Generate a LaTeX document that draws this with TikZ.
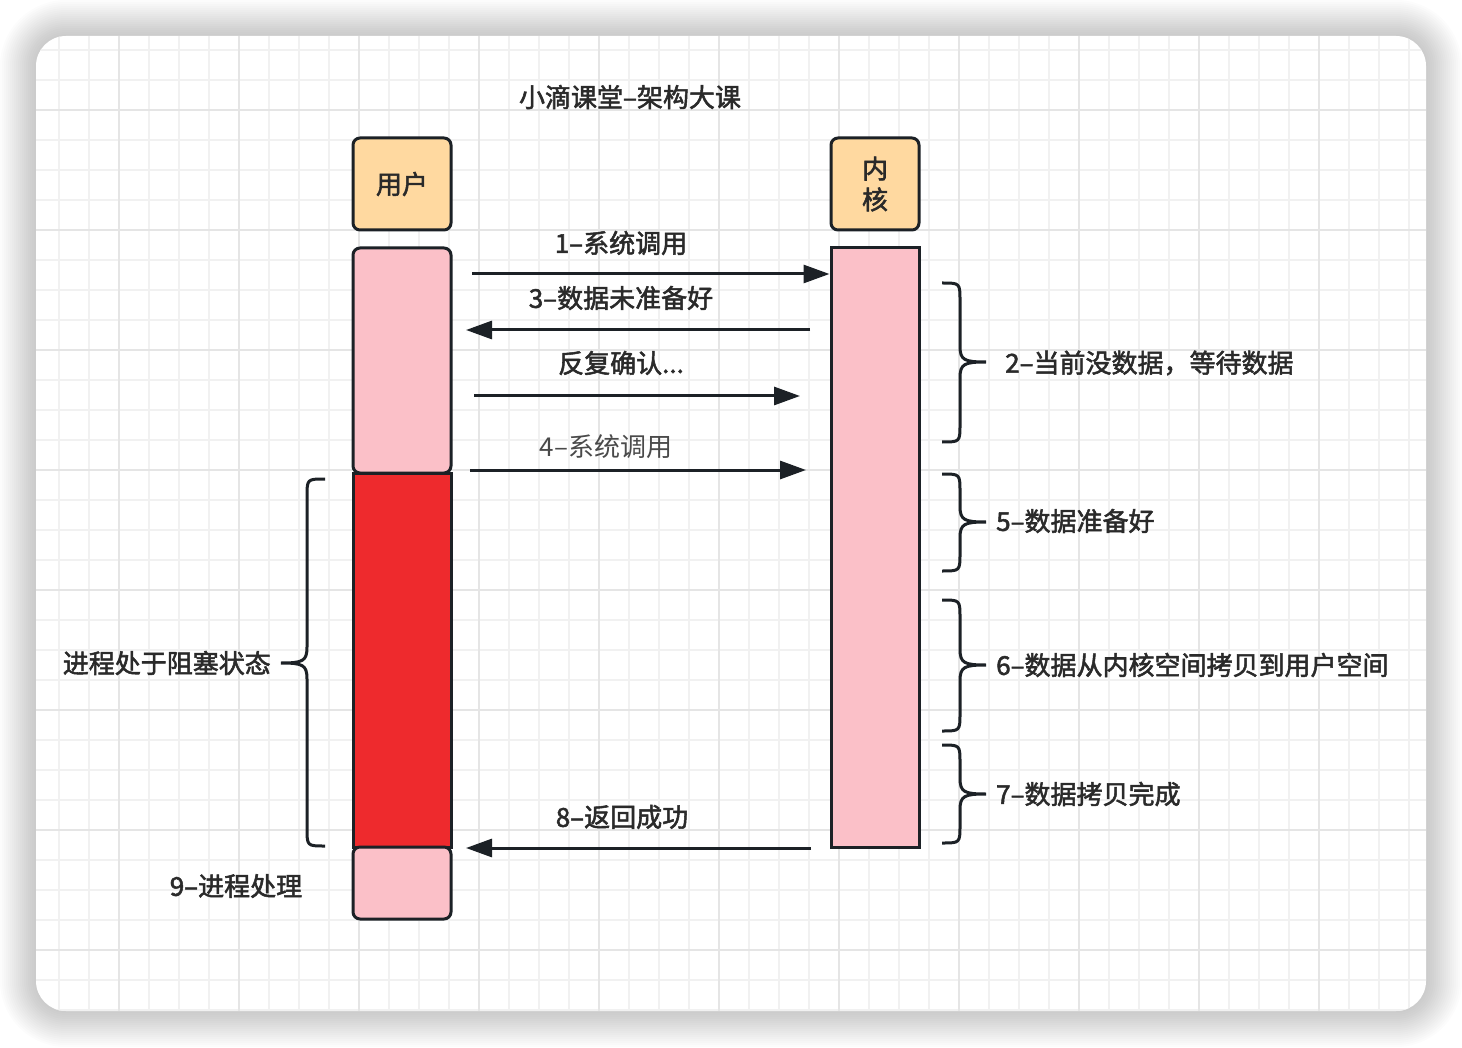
\documentclass[tikz,border=0pt]{standalone}
\usepackage{fontspec}
\setmainfont{Noto Sans CJK SC}
\newfontfamily\cjkm{Noto Sans CJK SC}[FakeBold=2]
\usetikzlibrary{arrows.meta}
\definecolor{bordc}{HTML}{1C2126}
\definecolor{orangec}{HTML}{FFD9A0}
\definecolor{pinkc}{HTML}{FBC0C8}
\definecolor{redc}{HTML}{EE2A2D}
\definecolor{txtc}{HTML}{2A2A2A}
\definecolor{gridminor}{HTML}{F1F1F1}
\definecolor{gridmajor}{HTML}{E5E5E5}
\newcommand{\myBrace}[5]{%
 \draw[bracestyle] (#1,#2) .. controls ({#1+18*#5},#2) .. ({#1+18*#5},{#2+18})
  -- ({#1+18*#5},{#4-16}) .. controls ({#1+18*#5},{#4-2}) and ({#1+22*#5},#4) .. ({#1+44*#5},#4)
  .. controls ({#1+22*#5},#4) and ({#1+18*#5},{#4+2}) .. ({#1+18*#5},{#4+16})
  -- ({#1+18*#5},{#3-18}) .. controls ({#1+18*#5},#3) .. (#1,#3);}
\tikzset{
 boxstyle/.style={draw=bordc, line width=3pt, rounded corners=7pt, inner sep=0pt},
 barstyle/.style={draw=bordc, line width=3pt, inner sep=0pt},
 lbl/.style={text=txtc, font=\cjkm\fontsize{26}{31}\selectfont, inner sep=0pt},
 lblreg/.style={text=txtc!85!white, font=\fontsize{26}{31}\selectfont, inner sep=0pt},
 arr/.style={draw=bordc, line width=3pt, -{Triangle[length=26pt,width=18pt]}},
 bracestyle/.style={draw=bordc, line width=3pt},
}
\begin{document}
\begin{tikzpicture}[x=1pt,y=-1pt]
\useasboundingbox (0,0) rectangle (1462,1048);
% shadow
\foreach \i in {1,...,18}{
  \fill[black,opacity=0.012,rounded corners={30+2*\i}] ({36-2*\i},{36-2*\i}) rectangle ({1426+2*\i},{1011+2*\i});
}
\fill[white,rounded corners=30] (36,36) rectangle (1426,1011);
% grid
\begin{scope}
\clip[rounded corners=30] (36,36) rectangle (1426,1011);
\foreach \x in {59,89,...,1425}{\draw[gridminor,line width=1.6pt] (\x,36) -- (\x,1011);}
\foreach \y in {50,80,...,1010}{\draw[gridminor,line width=1.6pt] (36,\y) -- (1426,\y);}
\foreach \x in {119,239,...,1425}{\draw[gridmajor,line width=2pt] (\x,36) -- (\x,1011);}
\foreach \y in {110,230,...,1010}{\draw[gridmajor,line width=2pt] (36,\y) -- (1426,\y);}
\end{scope}
% title
\node[lbl] (title) at (630,97) {小滴课堂–架构大课};
% header boxes
\node[boxstyle, fill=orangec, minimum width=98pt, minimum height=92pt, lbl] (user) at (402,184) {用户};
\node[boxstyle, fill=orangec, minimum width=88pt, minimum height=92pt, lbl, align=center] (kernel) at (875,184) {内\\核};
% lifeline bars
\node[barstyle, fill=redc, minimum width=98pt, minimum height=374pt] (ured) at (402,660) {};
\node[boxstyle, fill=pinkc, minimum width=98pt, minimum height=225pt] (upink) at (402,360.5) {};
\node[boxstyle, fill=pinkc, minimum width=98pt, minimum height=72pt] (upinkb) at (402,883) {};
\node[barstyle, fill=pinkc, minimum width=88pt, minimum height=599pt] (kpink) at (875,547.5) {};
% arrows
\coordinate (a1s) at (472,274);
\coordinate (a3s) at (810,330);
\coordinate (a3e) at (466,330);
\coordinate (ars) at (474,396);
\coordinate (are) at (800,396);
\coordinate (a4s) at (470,470);
\coordinate (a4e) at (806,470);
\coordinate (a8s) at (811,848);
\coordinate (a8e) at (466,848);
\draw[arr] (a1s) -- (kpink.west |- a1s);
\draw[arr] (a3s) -- (a3e);
\draw[arr] (ars) -- (are);
\draw[arr] (a4s) -- (a4e);
\draw[arr] (a8s) -- (a8e);
% arrow labels
\node[lbl] (t1) at (621,243) {1–系统调用};
\node[lbl] (t3) at (621,298) {3–数据未准备好};
\node[lbl] (tr) at (621,363) {反复确认...};
\node[lblreg] (t4) at (606,447) {4–系统调用};
\node[lbl] (t8) at (622,817) {8–返回成功};
% braces
\myBrace{942}{283}{442}{362}{1}
\myBrace{942}{474}{571}{522}{1}
\myBrace{942}{600}{731}{665}{1}
\myBrace{942}{745}{843}{794}{1}
\myBrace{325}{479}{846}{663}{-1}
% brace labels
\node[lbl, anchor=west] (b2) at (1005,363) {2–当前没数据，等待数据};
\node[lbl, anchor=west] (b5) at (996,521) {5–数据准备好};
\node[lbl, anchor=west] (b6) at (996,665) {6–数据从内核空间拷贝到用户空间};
\node[lbl, anchor=west] (b7) at (996,794) {7–数据拷贝完成};
\node[lbl, anchor=east] (bl) at (271,663) {进程处于阻塞状态};
\node[lbl] (t9) at (236,886) {9–进程处理};
\end{tikzpicture}
\end{document}
